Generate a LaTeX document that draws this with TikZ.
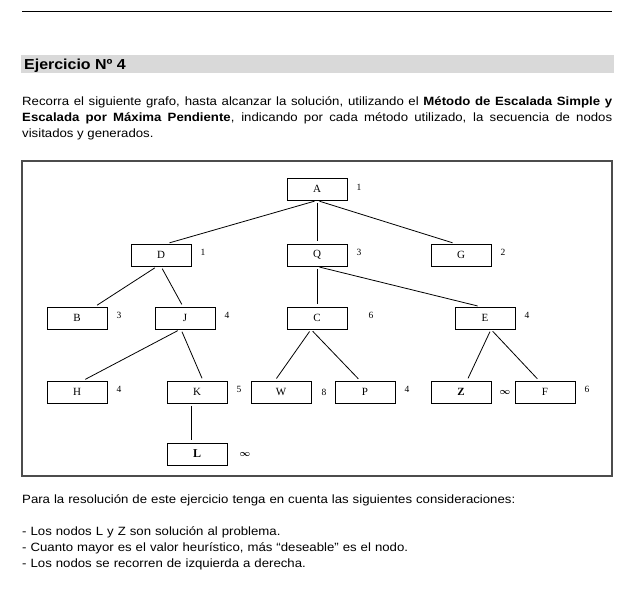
\documentclass[tikz,border=0pt]{standalone}
\usepackage{amsmath}
\usepackage{fontspec}
\setmainfont[FakeStretch=1.1]{Liberation Sans}
\newfontfamily\grafofont{Liberation Serif}
\usetikzlibrary{positioning}

\begin{document}
\begin{tikzpicture}[x=1pt, y=-1pt, node distance=60pt, on grid,
    box/.style={draw, line width=0.9pt, minimum width=60pt, minimum height=22pt,
      inner sep=0pt, font=\grafofont\fontsize{11}{11}\selectfont},
    hval/.style={inner sep=0pt, font=\grafofont\fontsize{9.5}{9.5}\selectfont},
    rama/.style={line width=0.8pt, shorten <=2.5pt, shorten >=2.5pt}]
  \useasboundingbox (0,0) rectangle (639,602);

  % cabecera
  \draw[line width=1pt] (22,12) -- (612,12);
  \fill[black!15] (21,55) rectangle (614,73);
  \node[anchor=base west, inner sep=0pt, font=\bfseries\fontsize{14.5}{14.5}\selectfont]
    (titulo) at (24,70) {Ejercicio Nº 4};
  \node[anchor=base west, inner sep=0pt, text width=590pt, align=justify,
    font=\fontsize{12}{16}\selectfont] (enunciado) at (22,105)
    {Recorra el siguiente grafo, hasta alcanzar la solución, utilizando el
     \textbf{Método de Escalada Simple y}\linebreak
     \textbf{Escalada por Máxima Pendiente}, indicando por cada método utilizado,
     la secuencia de nodos\linebreak visitados y generados.};

  % marco del grafo
  \draw[black!70, line width=1.2pt] (22,161) rectangle (612,476);

  % nodos
  \node[box] (A) at (317,189) {A};
  \node[box] (Q) [below=66pt of A] {Q};
  \node[box] (D) [left=156pt of Q] {D};
  \node[box] (G) [right=144pt of Q] {G};
  \node[box] (C) [below=63pt of Q] {C};
  \node[box] (E) [right=168pt of C] {E};
  \node[box] (J) [left=132pt of C] {J};
  \node[box] (B) [left=108pt of J] {B};
  \node[box] (H) [below=74pt of B] {H};
  \node[box] (K) [right=120pt of H] {K};
  \node[box] (W) [right=84pt of K] {W};
  \node[box] (P) [right=84pt of W] {P};
  \node[box] (Z) [right=96pt of P] {\textbf{Z}};
  \node[box] (F) [right=84pt of Z] {F};
  \node[box] (L) [below=62pt of K] {\textbf{\fontsize{12}{12}\selectfont L}};

  % valores heuristicos
  \node[hval] (hA) [right=42pt of A, yshift=2pt] {1};
  \node[hval] (hD) [right=42pt of D, yshift=3pt] {1};
  \node[hval] (hQ) [right=42pt of Q, yshift=3pt] {3};
  \node[hval] (hG) [right=42pt of G, yshift=3pt] {2};
  \node[hval] (hB) [right=42pt of B, yshift=3pt] {3};
  \node[hval] (hJ) [right=42pt of J, yshift=3pt] {4};
  \node[hval] (hC) [right=54pt of C, yshift=3pt] {6};
  \node[hval] (hE) [right=42pt of E, yshift=3pt] {4};
  \node[hval] (hH) [right=42pt of H, yshift=3pt] {4};
  \node[hval] (hK) [right=42pt of K, yshift=3pt] {5};
  \node[hval] (hW) [right=43pt of W] {8};
  \node[hval] (hP) [right=42pt of P, yshift=3pt] {4};
  \node[hval] (hZ) [right=44pt of Z] {$\boldsymbol{\infty}$};
  \node[hval] (hF) [right=42pt of F, yshift=3pt] {6};
  \node[hval] (hL) [right=48pt of L] {$\boldsymbol{\infty}$};

  \path[draw, rama]
    (A.south) edge ([xshift=6pt]D.north)
    (A.south) edge (Q.north)
    (A.south) edge ([xshift=-6pt]G.north)
    ([xshift=-4pt]D.south) edge ([xshift=18pt]B.north)
    (D.south) edge ([xshift=-2pt]J.north)
    (Q.south) edge (C.north)
    (Q.south) edge ([xshift=-5pt]E.north)
    ([xshift=-5pt]J.south) edge ([xshift=6pt]H.north)
    ([xshift=-4pt]J.south) edge ([xshift=6pt]K.north)
    ([xshift=-6pt]C.south) edge ([xshift=-6pt]W.north)
    ([xshift=-6pt]C.south) edge ([xshift=-5pt]P.north)
    ([xshift=6pt]E.south) edge ([xshift=6pt]Z.north)
    ([xshift=6pt]E.south) edge ([xshift=-6pt]F.north)
    ([xshift=-6pt]K.south) edge ([xshift=-6pt]L.north);

  % consideraciones
  \node[anchor=base west, inner sep=0pt, text width=590pt, align=left,
    font=\fontsize{12}{16}\selectfont] (nota) at (22,503)
    {Para la resolución de este ejercicio tenga en cuenta las siguientes consideraciones:\\[16pt]
     - Los nodos L y Z son solución al problema.\\
     - Cuanto mayor es el valor heurístico, más “deseable” es el nodo.\\
     - Los nodos se recorren de izquierda a derecha.};
\end{tikzpicture}
\end{document}
